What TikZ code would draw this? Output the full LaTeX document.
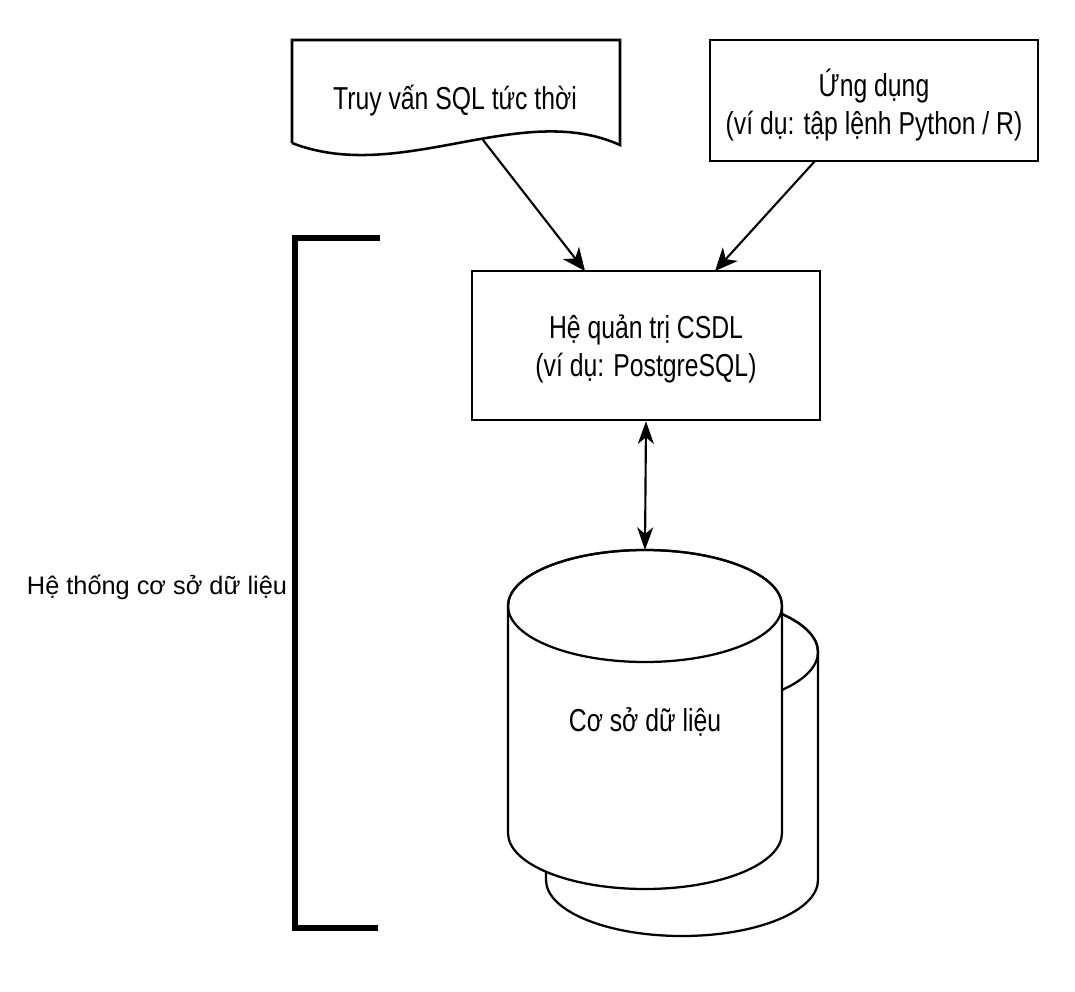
\documentclass[tikz,border=0pt]{standalone}
\usepackage{fontspec}
\setmainfont{Liberation Sans}
\newfontfamily\condfont[FakeStretch=0.78]{Liberation Sans}
\usetikzlibrary{arrows.meta}
\begin{document}
\begin{tikzpicture}[x=0.75pt,y=-0.75pt,
  boxline/.style={line width=1.9pt},
  lbl/.style={font=\condfont\fontsize{23.8}{29}\selectfont, align=center, inner sep=0pt},
  sidelbl/.style={font=\fontsize{19}{23}\selectfont, inner sep=0pt},
  conn/.style={line width=1.6pt, -{Stealth[length=17pt,width=15pt,inset=5pt]}},
  conn2/.style={line width=1.6pt, {Stealth[length=17pt,width=12pt,inset=5pt]}-{Stealth[length=17pt,width=12pt,inset=5pt]}},
  rectbox/.style={draw, boxline, fill=white, inner sep=0pt},
  cylline/.style={line width=1.7pt},
  bracket/.style={line width=3.8pt}]
\useasboundingbox (0,0) rectangle (1075,992);

% query document shape
\draw[boxline, line join=miter] (292,143) -- (292,40) -- (620,40) -- (620,145)
  .. controls (520,100) and (400,185) .. (292,143);
\node[lbl] (query) at (455,101) {Truy vấn SQL tức thời};
\coordinate (qout) at (483,140);

% application box
\node[rectbox, minimum width=246pt, minimum height=90.75pt] (app) at (874,100.5) {};
\node[lbl] (applbl) at (874,105) {Ứng dụng\\(ví dụ: tập lệnh Python / R)};
\coordinate (aout) at (815,161);

% DBMS box
\node[rectbox, minimum width=261pt, minimum height=111.75pt] (dbms) at (646,345.5) {};
\node[lbl] (dbmslbl) at (646,349) {Hệ quản trị CSDL\\(ví dụ: PostgreSQL)};
\coordinate (din1) at (585,271);
\coordinate (din2) at (715,271);

% arrows
\draw[conn] (qout) -- (din1);
\draw[conn] (aout) -- (din2);

% back cylinder
\filldraw[cylline, fill=white] (546,652) -- (546,880)
  arc[start angle=180, end angle=0, x radius=136, y radius=56] -- (818,652)
  arc[start angle=0, end angle=-180, x radius=136, y radius=56] -- cycle;
\draw[cylline] (682,652) ellipse[x radius=136, y radius=56];

% front cylinder
\filldraw[cylline, fill=white] (508,606) -- (508,833)
  arc[start angle=180, end angle=0, x radius=137, y radius=56] -- (782,606)
  arc[start angle=0, end angle=-180, x radius=137, y radius=56] -- cycle;
\draw[cylline] (645,606) ellipse[x radius=137, y radius=56];
\coordinate (dbtop) at (645,550);
\node[lbl] (db) at (645,722) {Cơ sở dữ liệu};

% double arrow
\draw[conn2] (dbms.south) -- (dbtop);

% bracket
\coordinate (b1) at (380,238);
\coordinate (b2) at (295,238);
\coordinate (b3) at (295,928);
\coordinate (b4) at (378,928);
\draw[bracket] (b1) -- (b2) -- (b3) -- (b4);
\node[sidelbl] (system) at (157,587) {Hệ thống cơ sở dữ liệu};
\end{tikzpicture}
\end{document}
